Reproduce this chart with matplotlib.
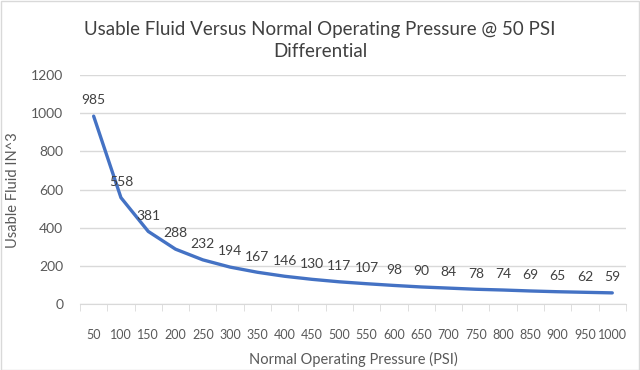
import matplotlib.pyplot as plt
import numpy as np

pressure = [50, 100, 150, 200, 250, 300, 350, 400, 450, 500,
            550, 600, 650, 700, 750, 800, 850, 900, 950, 1000]
fluid = [985, 558, 381, 288, 232, 194, 167, 146, 130, 117,
         107, 98, 90, 84, 78, 74, 69, 65, 62, 59]

plt.rcParams['font.family'] = ['Lato', 'DejaVu Sans']
txt = '#595959'
grid = '#D9D9D9'

fig = plt.figure(figsize=(6.4, 3.7), dpi=100)
ax = fig.add_axes([0.125, 0.178, 0.853, 0.619])

x = np.arange(len(pressure))
ax.plot(x, fluid, color='#4472C4', linewidth=2.4, solid_capstyle='round')

for xi, v in zip(x, fluid):
    ax.annotate(str(v), (xi, v), xytext=(0, 7), textcoords='offset points',
                ha='center', va='bottom', fontsize=10, color='#404040')

ax.set_xlim(-0.5, len(pressure) - 0.5)
ax.set_ylim(0, 1200)
ax.set_yticks(range(0, 1201, 200))
ax.yaxis.grid(True, color=grid, linewidth=1)
ax.set_axisbelow(True)

ax.set_xticks(x)
ax.set_xticklabels([str(p) for p in pressure])
ax.set_xticks(np.arange(-0.5, len(pressure)), minor=True)
ax.tick_params(axis='x', which='major', length=0, pad=18, labelsize=9, labelcolor=txt)
ax.tick_params(axis='x', which='minor', length=5, color=grid, direction='out')
ax.tick_params(axis='y', length=0, pad=12, labelsize=10, labelcolor=txt)

for s in ['top', 'right', 'left']:
    ax.spines[s].set_visible(False)
ax.spines['bottom'].set_color(grid)

ax.set_xlabel('Normal Operating Pressure (PSI)', fontsize=10.5, color=txt, labelpad=8)
ax.set_ylabel('Usable Fluid IN^3', fontsize=10.5, color=txt, labelpad=8)

fig.text(0.5, 0.89, 'Usable Fluid Versus Normal Operating Pressure @ 50 PSI\nDifferential',
         ha='center', va='center', fontsize=13.5, color='#404040', linespacing=1.35)

fig.patches.append(plt.Rectangle((0.001, 0.001), 0.997, 0.996, transform=fig.transFigure,
                                 fill=False, edgecolor='#D9D9D9', linewidth=1))

fig.savefig('out.png', dpi=100)
